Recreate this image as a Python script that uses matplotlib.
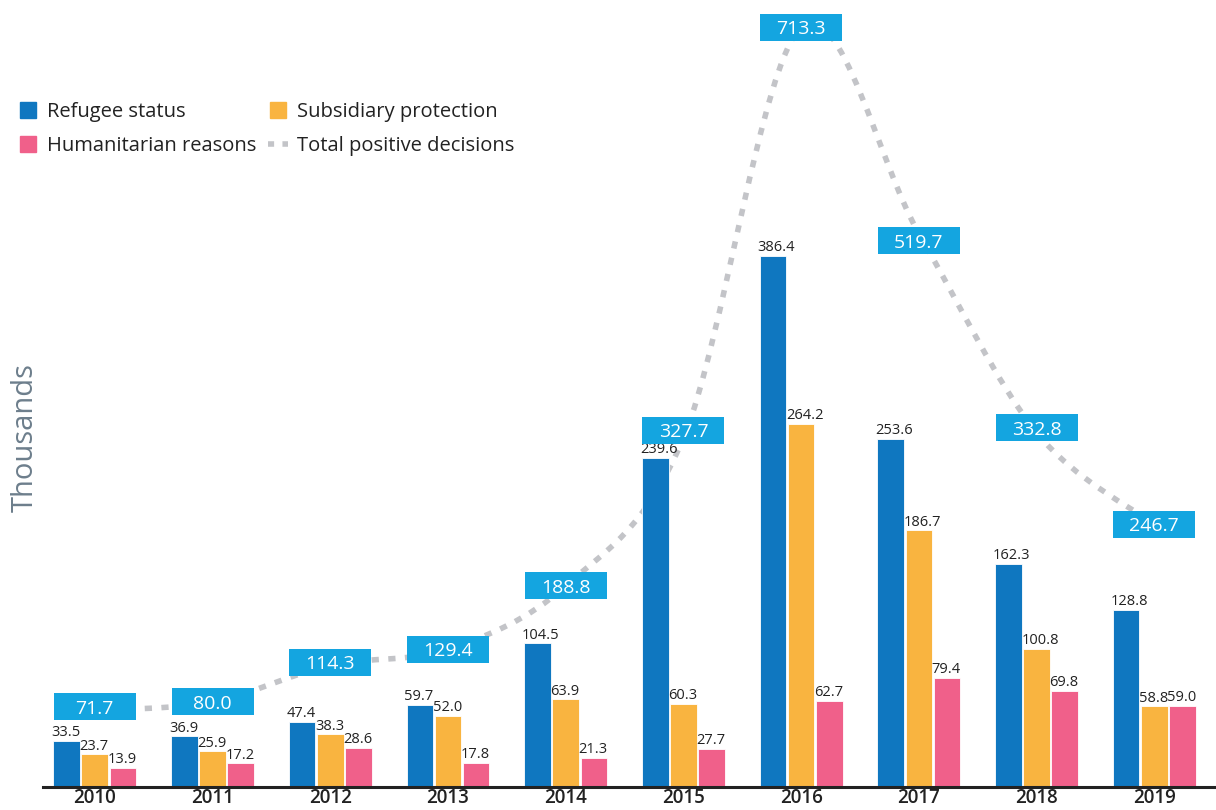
import numpy as np
import matplotlib
matplotlib.use("Agg")
import matplotlib.pyplot as plt
from matplotlib.path import Path
from matplotlib.patches import PathPatch, Rectangle
from matplotlib.lines import Line2D
from matplotlib.transforms import ScaledTranslation

plt.rcParams['font.family'] = ['Open Sans', 'DejaVu Sans']

years = ['2010', '2011', '2012', '2013', '2014', '2015', '2016', '2017', '2018', '2019']
refugee = [33.5, 36.9, 47.4, 59.7, 104.5, 239.6, 386.4, 253.6, 162.3, 128.8]
subsidiary = [23.7, 25.9, 38.3, 52.0, 63.9, 60.3, 264.2, 186.7, 100.8, 58.8]
humanitarian = [13.9, 17.2, 28.6, 17.8, 21.3, 27.7, 62.7, 79.4, 69.8, 59.0]
total = [71.7, 80.0, 114.3, 129.4, 188.8, 327.7, 713.3, 519.7, 332.8, 246.7]

# small vertical nudges (in inches) of the total labels, as in the reference layout
box_nudge = [0.04, 0.0, 0.03, 0.0, 0.0, 0.08, 0.0, -0.07, 0.05, 0.0]

c_ref = '#0f77c0'
c_sub = '#f9b440'
c_hum = '#f0608a'
c_tot = '#c3c4c8'
c_box = '#14a5e0'

W, H = 1216, 810
fig = plt.figure(figsize=(W / 100, H / 100), dpi=100)
ax = fig.add_axes([43 / W, 23 / H, (W - 43) / W, 787 / H])
ax2 = ax.twinx()
ax2.set_zorder(ax.get_zorder() - 1)
ax.patch.set_visible(False)

x = np.arange(len(years))
bw = 0.226
off = 0.239
ax.set_xlim(-0.44, 9.524)
ax.set_ylim(0, 572.8)
ax2.set_ylim(0, 739)

for vals, col, d in [(refugee, c_ref, -off), (subsidiary, c_sub, 0), (humanitarian, c_hum, off)]:
    ax.bar(x + d, vals, width=bw, color=col, edgecolor='white', linewidth=0.6, zorder=3)
    for xi, v in zip(x + d, vals):
        ax.annotate(f'{v:.1f}', (xi - bw / 2, v), xytext=(-1.5, 0.5), textcoords='offset points',
                    ha='left', va='bottom', fontsize=10.5, color='#222222', zorder=4)

# smooth total line (Catmull-Rom -> Bezier)
pts = np.column_stack([x, total]).astype(float)
verts = [tuple(pts[0])]
codes = [Path.MOVETO]
n = len(pts)
for i in range(n - 1):
    p0 = pts[i - 1] if i > 0 else pts[i]
    p1 = pts[i]
    p2 = pts[i + 1]
    p3 = pts[i + 2] if i + 2 < n else pts[i + 1]
    c1 = p1 + (p2 - p0) / 6.0
    c2 = p2 - (p3 - p1) / 6.0
    verts += [tuple(c1), tuple(c2), tuple(p2)]
    codes += [Path.CURVE4] * 3
path = Path(verts, codes)
ax2.add_patch(PathPatch(path, facecolor='none', edgecolor=c_tot, linewidth=4.0,
                        linestyle=(0, (1.3, 1.7)), capstyle='butt', zorder=1))

# boxes for totals (drawn on top)
for xi, v, nd in zip(x, total, box_nudge):
    trans = fig.dpi_scale_trans + ScaledTranslation(xi, v, ax2.transData)
    rect = Rectangle((-0.41, -0.135 + nd), 0.82, 0.27, transform=trans, facecolor=c_box,
                     edgecolor='none', zorder=10, clip_on=False)
    fig.add_artist(rect)
    fig.text(0, nd, f'{v:.1f}', transform=trans, ha='center', va='center_baseline',
             fontsize=14, color='white', zorder=11)

ax.set_xticks(x)
ax.set_xticklabels(years, fontsize=13.5, color='#222222', fontweight='semibold')
ax.tick_params(axis='x', length=0, pad=1)
ax.set_yticks([])
ax2.set_yticks([])
for a in (ax, ax2):
    for s in ['top', 'right', 'left']:
        a.spines[s].set_visible(False)
ax2.spines['bottom'].set_visible(False)
ax.spines['bottom'].set_linewidth(2.2)
ax.spines['bottom'].set_color('#222222')
ax.spines['bottom'].set_zorder(5)

fig.text(25 / W, 1 - 438 / H, 'Thousands', rotation=90, ha='center', va='center',
         fontsize=21, color='#6d7e8c')

handles = [
    Line2D([], [], marker='s', linestyle='none', markersize=11, color=c_ref),
    Line2D([], [], marker='s', linestyle='none', markersize=11, color=c_hum),
    Line2D([], [], marker='s', linestyle='none', markersize=11, color=c_sub),
    Line2D([], [], color=c_tot, linewidth=4.0, linestyle=(0, (1.1, 1.5))),
]
labels = ['Refugee status', 'Humanitarian reasons', 'Subsidiary protection', 'Total positive decisions']
fig.legend(handles, labels, ncol=2, loc='upper left', bbox_to_anchor=(0 / W, 1 - 84 / H),
           frameon=False, fontsize=14.5, handlelength=1.0, handletextpad=0.45,
           columnspacing=0.55, labelspacing=0.7, labelcolor='#222222')

fig.savefig('out.png', dpi=100)
